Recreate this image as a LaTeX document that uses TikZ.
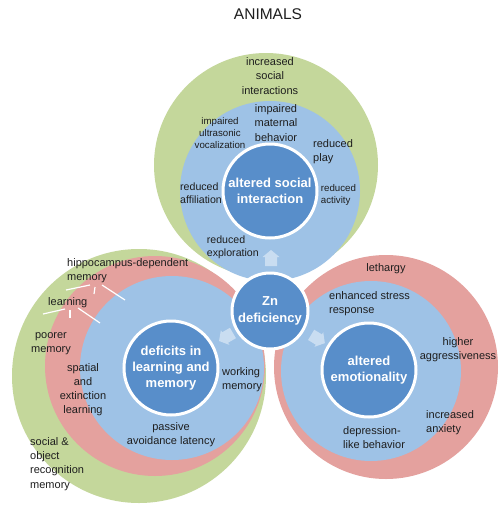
\documentclass[tikz,border=0pt]{standalone}
\usepackage{fontspec}
\setmainfont{Liberation Sans}
\definecolor{ringgreen}{RGB}{196,215,155}
\definecolor{ringred}{RGB}{228,161,158}
\definecolor{ringblue}{RGB}{158,194,230}
\definecolor{coreblue}{RGB}{88,142,202}
\definecolor{txt}{RGB}{30,30,30}
\tikzset{
  ring/.style={circle, inner sep=0pt, draw=none},
  core/.style={circle, fill=coreblue, draw=white, line width=3pt, inner sep=0pt, text=white, align=center, font=\bfseries\fontsize{13}{16}\selectfont},
  lbl/.style={inner sep=0pt, text=txt, font=\fontsize{11}{14.2}\selectfont},
  med/.style={inner sep=0pt, text=txt, font=\fontsize{10.6}{13}\selectfont},
  sml/.style={inner sep=0pt, text=txt, font=\fontsize{9.7}{12}\selectfont},
  leader/.style={draw=white, line width=1.2pt},
  pale/.style={fill=white, fill opacity=0.45}
}
\begin{document}
\begin{tikzpicture}[x=1pt,y=-1pt]
\useasboundingbox (0,0) rectangle (500,509);
\fill[white] (0,0) rectangle (500,509);

\node[font=\fontsize{15.5}{18}\selectfont, text=txt] (title) at (268,14) {ANIMALS};

% left group
\node[ring, fill=ringgreen, minimum size=254pt] (lg) at (139,376) {};
\node[ring, fill=ringred, minimum size=220pt] (lr) at (155,366) {};
\node[ring, fill=ringblue, minimum size=184pt] (lb) at (172,368) {};
\node[core, minimum size=94pt] (lc) at (171,368) {deficits in\\learning and\\memory};

% right group
\node[ring, fill=ringred, minimum size=224pt] (rr) at (386,367) {};
\node[ring, fill=ringblue, minimum size=180pt] (rb) at (371,371) {};
\node[core, minimum size=94pt] (rc) at (369,370) {altered\\emotionality};

% top group
\node[ring, fill=ringgreen, minimum size=224pt] (tg) at (266,165) {};
\node[ring, fill=ringblue, minimum size=180pt] (tb) at (270,191) {};
\node[core, minimum size=94pt] (tc) at (270,191) {altered social\\interaction};

% pale arrows
\begin{scope}[shift={(271,258)}, rotate=90]
\fill[pale] (-8,-6) -- (1,-6) -- (1,-8.5) -- (8,0) -- (1,8.5) -- (1,6) -- (-8,6) -- cycle;
\end{scope}
\begin{scope}[shift={(226,337)}, rotate=210]
\fill[pale] (-8,-6) -- (1,-6) -- (1,-8.5) -- (8,0) -- (1,8.5) -- (1,6) -- (-8,6) -- cycle;
\end{scope}
\begin{scope}[shift={(318,339)}, rotate=-31]
\fill[pale] (-8,-6) -- (1,-6) -- (1,-8.5) -- (8,0) -- (1,8.5) -- (1,6) -- (-8,6) -- cycle;
\end{scope}

% Zn
\node[core, minimum size=76pt, font=\bfseries\fontsize{13}{17}\selectfont] (zn) at (270,311) {Zn\\deficiency};

% top labels
\node[lbl, align=center] (t1) at (270,76) {increased\\social\\interactions};
\node[lbl, align=center] (t2) at (276,123) {impaired\\maternal\\behavior};
\node[sml, align=center] (t3) at (220,133) {impaired\\ultrasonic\\vocalization};
\node[lbl, align=left, anchor=west] (t4) at (313,152) {reduced\\play};
\node[med, align=left, anchor=west] (t5) at (180,193.5) {reduced\\affiliation};
\node[sml, align=left, anchor=west] (t6) at (320.7,195) {reduced\\activity};
\node[med, align=left, anchor=west] (t7) at (206.7,247) {reduced\\exploration};

% left labels
\node[lbl, align=left, anchor=west] (l1) at (67,270.5) {hippocampus-dependent\\memory};
\node[lbl, anchor=west] (l2) at (48,303) {learning};
\node[lbl, align=center] (l3) at (51,344) {poorer\\memory};
\node[lbl, align=center] (l4) at (83,389.5) {spatial\\and\\extinction\\learning};
\node[lbl, align=left, anchor=west] (l5) at (30,464) {social \&\\object\\recognition\\memory};
\node[lbl, align=center] (l6) at (171,434.5) {passive\\avoidance latency};
\node[lbl, align=left, anchor=west] (l7) at (222,380) {working\\memory};

% right labels
\node[lbl] (r1) at (386,269) {lethargy};
\node[lbl, align=left, anchor=west] (r2) at (329,304) {enhanced stress\\response};
\node[lbl, align=center] (r3) at (458,350) {higher\\aggressiveness};
\node[lbl, align=left, anchor=west] (r4) at (426,422.5) {increased\\anxiety};
\node[lbl, align=left, anchor=west] (r5) at (343,437.5) {depression-\\like behavior};

% leader lines
\coordinate (h1a) at (66,290); \coordinate (h1b) at (90,285);
\coordinate (h2a) at (95,287); \coordinate (h2b) at (94,294);
\coordinate (h3a) at (102,285); \coordinate (h3b) at (125,300);
\coordinate (g1a) at (43,314); \coordinate (g1b) at (65,309);
\coordinate (g2a) at (70,310); \coordinate (g2b) at (70,318);
\coordinate (g3a) at (78,308); \coordinate (g3b) at (100,323);
\draw[leader] (h1a) -- (h1b);
\draw[leader] (h2a) -- (h2b);
\draw[leader] (h3a) -- (h3b);
\draw[leader] (g1a) -- (g1b);
\draw[leader] (g2a) -- (g2b);
\draw[leader] (g3a) -- (g3b);
\end{tikzpicture}
\end{document}
